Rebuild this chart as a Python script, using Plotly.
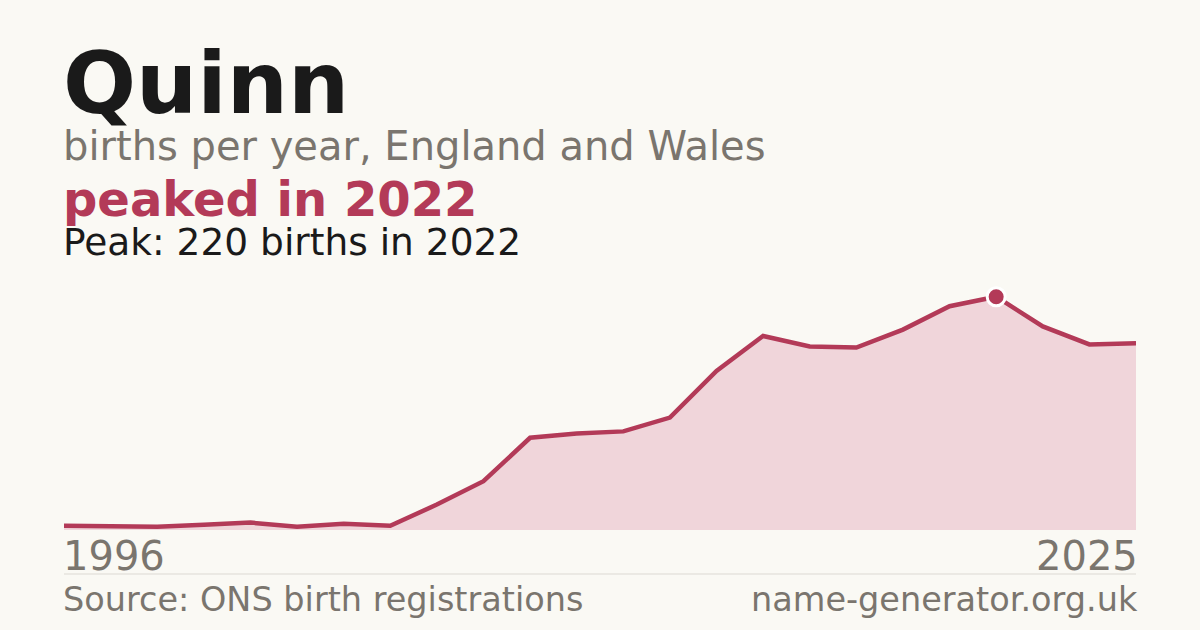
#!/usr/bin/env python3
"""Quinn: births per year in England and Wales, shown as a filled line with the peak marked."""

import plotly.graph_objects as go

# data
years = [
    "1996", "1998", "2000", "2002", "2004", "2006", "2007", "2009",
    "2010", "2011", "2012", "2013", "2014", "2015", "2016", "2017",
    "2018", "2019", "2020", "2021", "2022", "2023", "2024", "2025",
]
births = [
    4, 3, 3, 5, 7, 3, 6, 4,
    24, 46, 87, 91, 93, 106, 150, 183,
    173, 172, 189, 211, 220, 192, 175, 176,
]

name = "Quinn"
subtitle = "births per year, England and Wales"
source = "Source: ONS birth registrations"
site = "name-generator.org.uk"

RED = "#b33a58"
FILL = "#f0d5da"
GREY = "#7a756e"
INK = "#1a1a1a"
BG = "#faf9f4"
FONT = "DejaVu Sans"

W, H = 1200, 630

peak_i = births.index( max( births ) )
peak_year = years[ peak_i ]


def px( x ):
    return x / W


def py( y ):
    return 1 - y / H


fig = go.Figure()

fig.add_trace(
    go.Scatter(
        x = years,
        y = births,
        mode = "lines",
        line = dict( color = RED, width = 4.5 ),
        fill = "tozeroy",
        fillcolor = FILL,
        hoverinfo = "skip",
        showlegend = False,
    )
)

fig.add_trace(
    go.Scatter(
        x = [ peak_year ],
        y = [ births[ peak_i ] ],
        mode = "markers",
        marker = dict( color = RED, size = 18, line = dict( color = "white", width = 3 ) ),
        hoverinfo = "skip",
        showlegend = False,
    )
)

texts = [
    # text, x, y-centre, size, colour, bold, anchor
    ( name, 61, 83, 86, INK, True, "left" ),
    ( subtitle, 61, 146, 40, GREY, False, "left" ),
    ( f"peaked in {peak_year}", 61, 199, 48, RED, True, "left" ),
    ( f"Peak: {max( births )} births in {peak_year}", 61, 242, 37.5, INK, False, "left" ),
    ( years[ 0 ], 61, 556, 40, GREY, False, "left" ),
    ( years[ -1 ], 1140, 556, 40, GREY, False, "right" ),
    ( source, 61, 599, 33.5, GREY, False, "left" ),
    ( site, 1140, 599, 33.5, GREY, False, "right" ),
]

annotations = []
for text, x, y, size, color, bold, anchor in texts:
    annotations.append(
        dict(
            text = f"<b>{text}</b>" if bold else text,
            x = px( x ),
            y = py( y ),
            xref = "paper",
            yref = "paper",
            xanchor = anchor,
            yanchor = "middle",
            showarrow = False,
            font = dict( family = FONT, size = size, color = color ),
        )
    )

fig.update_layout(
    width = W,
    height = H,
    paper_bgcolor = BG,
    plot_bgcolor = BG,
    margin = dict( l = 0, r = 0, t = 0, b = 0 ),
    annotations = annotations,
    shapes = [
        dict(
            type = "line",
            xref = "paper",
            yref = "paper",
            x0 = px( 64 ),
            x1 = px( 1136 ),
            y0 = py( 574 ),
            y1 = py( 574 ),
            line = dict( color = "#dcd9d3", width = 1 ),
        )
    ],
)
fig.update_xaxes(
    type = "category",
    domain = [ px( 64 ), px( 1136 ) ],
    range = [ 0, len( years ) - 1 ],
    showgrid = False,
    showticklabels = False,
    zeroline = False,
    showline = False,
)
fig.update_yaxes(
    domain = [ py( 530 ), py( 275.5 ) ],
    range = [ 0, 240 ],
    showgrid = False,
    showticklabels = False,
    zeroline = False,
    showline = False,
)

# the page's default body margin would shift the figure by 8px
fig.write_html(
    "out.html",
    config = { "displayModeBar": False },
    post_script = "document.body.style.margin = '0'; document.body.style.overflow = 'hidden';",
)
